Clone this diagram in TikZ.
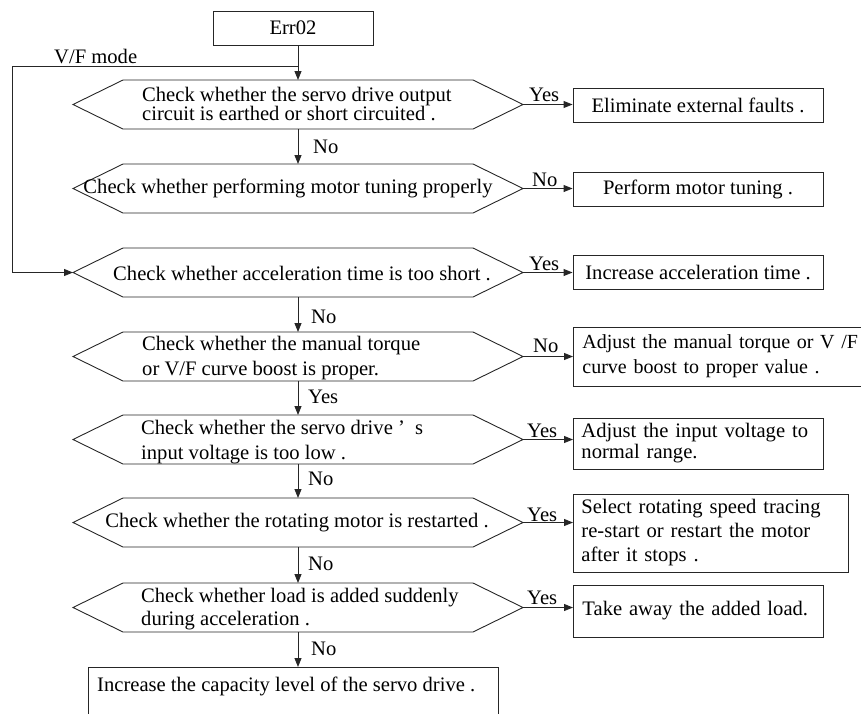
\documentclass[tikz,border=0pt]{standalone}
\usepackage{fontspec}
\setmainfont{Liberation Serif}
\usetikzlibrary{arrows.meta,calc}
\newcommand\fsz[1]{\fontsize{20.6}{#1}\selectfont\lineskiplimit=-40pt\relax}
\newcommand\fszs[1]{\fontsize{20}{#1}\selectfont\lineskiplimit=-40pt\relax}
\tikzset{
  ln/.style={line width=0.9pt, draw=black!85},
  arr/.style={ln, -{Triangle[length=9pt,width=7pt]}},
  txt/.style={font=\fsz{24}, inner sep=0pt},
  lab/.style={font=\fsz{24}, inner sep=0pt, anchor=base west},
  box/.style={ln, draw, rectangle, font=\fsz{24}, inner ysep=0pt},
}
\newcommand\hexshape[2]{%
  \coordinate (#1w) at (73,#2);
  \coordinate (#1e) at (523,#2);
  \coordinate (#1n) at (298,{#2-24.5});
  \coordinate (#1s) at (298,{#2+24.5});
  \draw[ln] (#1w) -- (123,{#2-24.5}) -- (473,{#2-24.5}) -- (#1e) -- (473,{#2+24.5}) -- (123,{#2+24.5}) -- cycle;
}
\begin{document}
\begin{tikzpicture}[x=1pt,y=-1pt]
\useasboundingbox (0,0) rectangle (861,713);
\clip (0,0) rectangle (861,713);

% start
\node[box, minimum width=160pt, minimum height=34pt] (err) at (293,28) {Err02};

% decisions
\hexshape{h1}{104.5}
\node[txt, align=left, anchor=west, font=\fsz{19}] (t1) at (142,103.5) {Check whether the servo drive output\\circuit is earthed or short circuited .};
\hexshape{h2}{188.5}
\node[txt] (t2) at (288,188) {Check whether performing motor tuning properly};
\hexshape{h3}{272.5}
\node[txt] (t3) at (302,273) {Check whether acceleration time is too short .};
\hexshape{h4}{356.5}
\node[txt, align=left, anchor=west, font=\fsz{25}] (t4) at (142,358) {Check whether the manual torque\\or V/F curve boost is proper.};
\hexshape{h5}{439.5}
\node[txt, align=left, anchor=west, font=\fsz{25}] (t5) at (141,442) {Check whether the servo drive ’\ \ s\\input voltage is too low .};
\hexshape{h6}{522.5}
\node[txt] (t6) at (297,523) {Check whether the rotating motor is restarted .};
\hexshape{h7}{607.5}
\node[txt, align=left, anchor=west, font=\fsz{23}] (t7) at (141,609) {Check whether load is added suddenly\\during acceleration .};

% actions
\node[box, minimum width=250pt, minimum height=34pt] (b1) at (698,105) {Eliminate external faults .};
\node[box, minimum width=250pt, minimum height=34pt] (b2) at (698,189) {Perform motor tuning .};
\node[box, minimum width=250pt, minimum height=34pt] (b3) at (698,272) {Increase acceleration time .};
\node[box, anchor=west, text width=320pt, inner xsep=9pt, align=left, minimum height=59pt, font=\fszs{25}] (b4) at (573,356.5) {Adjust the manual torque or V /F\\curve boost to proper value .};
\node[box, anchor=west, text width=234pt, inner xsep=8pt, align=left, minimum height=51pt, font=\fsz{21}] (b5) at (573,443.5) {Adjust the input voltage to\\normal range.};
\node[box, anchor=west, text width=259pt, inner xsep=8pt, align=left, minimum height=78pt, font=\fsz{24}] (b6) at (573,533) {Select rotating speed tracing\\re-start or restart the motor\\after it stops .};
\node[box, anchor=west, text width=232pt, inner xsep=9pt, align=left, minimum height=52pt] (b7) at (573,611) {Take away the added load.};
\node[box, minimum width=410pt, minimum height=80pt, anchor=north] (bot) at (293,667) {};
\node[txt, anchor=west] (bt) at (97,686) {Increase the capacity level of the servo drive .};

% vertical flow
\coordinate (vf) at (298,66);
\coordinate (lc) at (12,66);
\draw[arr] (err.south -| h1n) -- (h1n);
\draw[arr] (h1s) -- (h2n);
\draw[arr] (h3s) -- (h4n);
\draw[arr] (h4s) -- (h5n);
\draw[arr] (h5s) -- (h6n);
\draw[arr] (h6s) -- (h7n);
\draw[arr] (h7s) -- (bot.north -| h7s);
\draw[arr] (vf) -- (lc) |- (h3w);

% horizontal flow
\draw[arr] (h1e) -- (h1e -| b1.west);
\draw[arr] (h2e) -- (h2e -| b2.west);
\draw[arr] (h3e) -- (h3e -| b3.west);
\draw[arr] (h4e) -- (h4e -| b4.west);
\draw[arr] (h5e) -- (h5e -| b5.west);
\draw[arr] (h6e) -- (h6e -| b6.west);
\draw[arr] (h7e) -- (h7e -| b7.west);

% labels
\node[lab] (lvf) at (54,63) {V/F mode};
\node[lab] (l1) at (529,101) {Yes};
\node[lab] (l2) at (532,186) {No};
\node[lab] (l3) at (529,270) {Yes};
\node[lab] (l4) at (533,352) {No};
\node[lab] (l5) at (527,437) {Yes};
\node[lab] (l6) at (527,521) {Yes};
\node[lab] (l7) at (527,604) {Yes};
\node[lab] (d1) at (313,153) {No};
\node[lab] (d3) at (311,323) {No};
\node[lab] (d4) at (308,403) {Yes};
\node[lab] (d5) at (308,485) {No};
\node[lab] (d6) at (308,570) {No};
\node[lab] (d7) at (311,655) {No};
\end{tikzpicture}
\end{document}
